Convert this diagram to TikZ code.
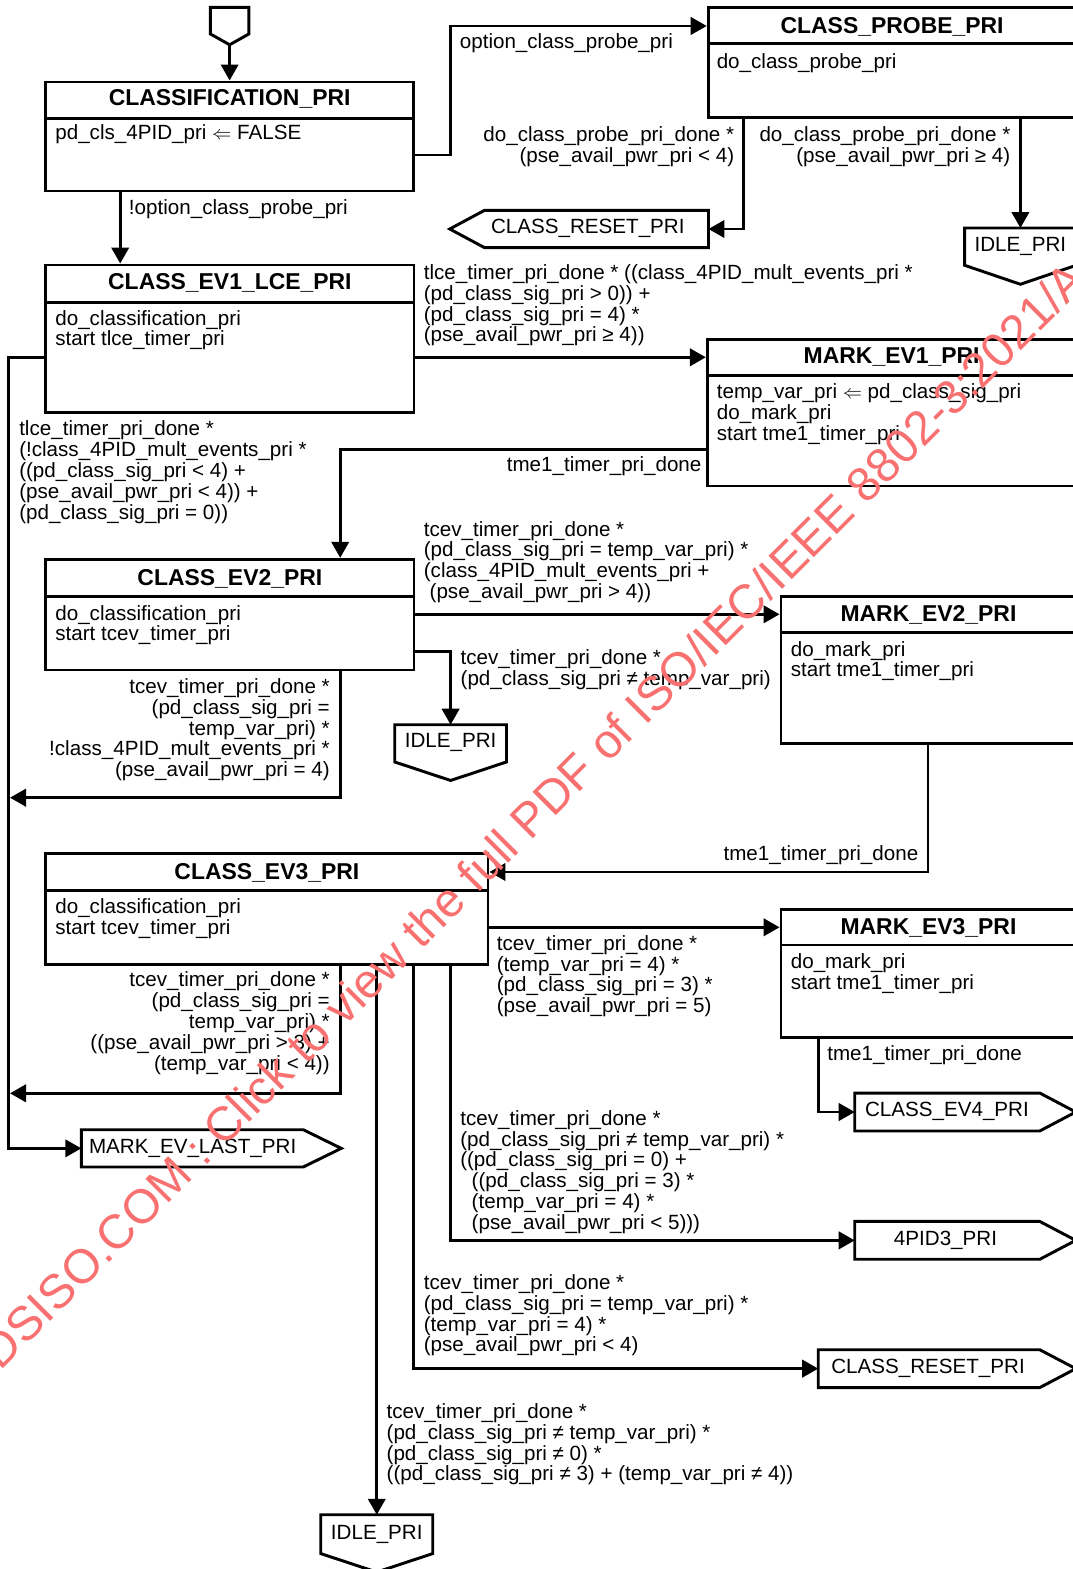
\documentclass[tikz,border=0pt]{standalone}
\usepackage{fontspec}
\setmainfont{Liberation Sans}
\usetikzlibrary{arrows.meta,fit,calc}
\newcommand\lblfont{\fontsize{15.45pt}{15.6pt}\selectfont}
\newcommand\ttlfont{\fontsize{17.2pt}{18pt}\selectfont\bfseries}
\newcommand\wmfont{\fontsize{36pt}{38pt}\selectfont}
\definecolor{wmred}{RGB}{248,112,112}
\begin{document}
\begin{tikzpicture}[x=0.75pt,y=-0.75pt,
 ln/.style={line width=2.2pt},
 arr/.style={line width=2.2pt,-{Triangle[length=12pt,width=13pt]}},
 sbox/.style={draw,line width=2.2pt,inner sep=0pt},
 body/.style={inner sep=0pt},
 ttl/.style={inner sep=0pt,font=\ttlfont,anchor=base},
 txt/.style={inner sep=0pt,font=\lblfont,anchor=base west},
 lbl/.style={inner sep=0pt,font=\lblfont,align=left,anchor=north west},
 rlbl/.style={inner sep=0pt,font=\lblfont,align=right,anchor=north east},
 wm/.style={inner sep=0pt,font=\wmfont,text=wmred,anchor=base west,rotate=45}]

\useasboundingbox (0,0) rectangle (1073,1569);
\clip (0,0) rectangle (1073,1569);

% ---------- state boxes ----------
\node[sbox,fit={(45.8,82)(413.5,191)}] (cls) {};
\draw[ln] (cls.west |- 0,118.3) -- (cls.east |- 0,118.3);
\node[ttl] (clsT) at (cls.north |- 0,106) {CLASSIFICATION\_PRI};
\node[txt] (clsB) at (55.1,140) {pd\_cls\_4PID\_pri $\Leftarrow$ FALSE};

\node[sbox,fit={(708.2,7.3)(1076,117.3)}] (probe) {};
\draw[ln] (probe.west |- 0,43.3) -- (probe.east |- 0,43.3);
\node[ttl] (probeT) at (probe.north |- 0,33.3) {CLASS\_PROBE\_PRI};
\node[txt] (probeB) at (716.5,68.3) {do\_class\_probe\_pri};

\node[sbox,fit={(45.8,265)(414,412.7)}] (cev1) {};
\draw[ln] (cev1.west |- 0,302.3) -- (cev1.east |- 0,302.3);
\node[ttl] (cev1T) at (cev1.north |- 0,289.3) {CLASS\_EV1\_LCE\_PRI};
\node[lbl] (cev1B) at (55.1,310) {do\_classification\_pri\\start tlce\_timer\_pri};

\node[sbox,fit={(707.3,339.3)(1076,486)}] (mev1) {};
\draw[ln] (mev1.west |- 0,375.3) -- (mev1.east |- 0,375.3);
\node[ttl] (mev1T) at (mev1.north |- 0,363.3) {MARK\_EV1\_PRI};
\node[lbl] (mev1B) at (716.6,383.3) {temp\_var\_pri $\Leftarrow$ pd\_class\_sig\_pri\\do\_mark\_pri\\start tme1\_timer\_pri};

\node[sbox,fit={(45.8,559.3)(414,670)}] (cev2) {};
\draw[ln] (cev2.west |- 0,596.7) -- (cev2.east |- 0,596.7);
\node[ttl] (cev2T) at (cev2.north |- 0,585) {CLASS\_EV2\_PRI};
\node[lbl] (cev2B) at (55.1,605) {do\_classification\_pri\\start tcev\_timer\_pri};

\node[sbox,fit={(781,596.7)(1076,743.3)}] (mev2) {};
\draw[ln] (mev2.west |- 0,632.7) -- (mev2.east |- 0,632.7);
\node[ttl] (mev2T) at (mev2.north |- 0,621.7) {MARK\_EV2\_PRI};
\node[lbl] (mev2B) at (790.6,641) {do\_mark\_pri\\start tme1\_timer\_pri};

\node[sbox,fit={(45.8,853.3)(488,964.3)}] (cev3) {};
\draw[ln] (cev3.west |- 0,890.7) -- (cev3.east |- 0,890.7);
\node[ttl] (cev3T) at (cev3.north |- 0,879.3) {CLASS\_EV3\_PRI};
\node[lbl] (cev3B) at (55.1,898.3) {do\_classification\_pri\\start tcev\_timer\_pri};

\node[sbox,fit={(781,909.3)(1076,1037.3)}] (mev3) {};
\draw[ln] (mev3.west |- 0,945) -- (mev3.east |- 0,945);
\node[ttl] (mev3T) at (mev3.north |- 0,934) {MARK\_EV3\_PRI};
\node[lbl] (mev3B) at (790.6,953.3) {do\_mark\_pri\\start tme1\_timer\_pri};

% ---------- entry / exit symbols ----------
\node[body,fit={(210.7,7.6)(248.6,33.7)}] (init) {};
\coordinate (initTip) at (229.65,44.8);
\draw[ln] (init.north west) -- (init.north east) -- (init.south east) -- (initTip) -- (init.south west) -- cycle;

\node[body,fit={(964.8,228.3)(1076,265)}] (idleA) {};
\draw[ln] (idleA.north west) -- (idleA.north east) -- (idleA.south east) -- ($(idleA.south)+(0,19)$) -- (idleA.south west) -- cycle;
\node[txt,anchor=base] (idleAT) at (idleA.north |- 0,251.7) {IDLE\_PRI};

\node[body,fit={(395,725)(506.2,761.7)}] (idleB) {};
\draw[ln] (idleB.north west) -- (idleB.north east) -- (idleB.south east) -- ($(idleB.south)+(0,18.5)$) -- (idleB.south west) -- cycle;
\node[txt,anchor=base] (idleBT) at (idleB.north |- 0,747.3) {IDLE\_PRI};

\node[body,fit={(321,1515)(432.5,1553.3)}] (idleC) {};
\draw[ln] (idleC.north west) -- (idleC.north east) -- (idleC.south east) -- ($(idleC.south)+(0,18.5)$) -- (idleC.south west) -- cycle;
\node[txt,anchor=base] (idleCT) at (idleC.north |- 0,1539.3) {IDLE\_PRI};

\node[body,fit={(484.6,210.7)(708.2,247.3)}] (resetA) {};
\draw[ln] (resetA.north west) -- (resetA.north east) -- (resetA.south east) -- (resetA.south west) -- ($(resetA.west)+(-34.6,0)$) -- cycle;
\node[txt] (resetAT) at (490.8,233.3) {CLASS\_RESET\_PRI};

\node[body,fit={(81.6,1130)(303,1166.7)}] (mlast) {};
\draw[ln] (mlast.north west) -- (mlast.north east) -- ($(mlast.east)+(38,0)$) -- (mlast.south east) -- (mlast.south west) -- cycle;
\node[txt] (mlastT) at (88.8,1153.3) {MARK\_EV\_LAST\_PRI};

\node[body,fit={(855,1093.3)(1039.5,1130.7)}] (ev4) {};
\draw[ln] (ev4.north west) -- (ev4.north east) -- ($(ev4.east)+(36,0)$) -- (ev4.south east) -- (ev4.south west) -- cycle;
\node[txt] (ev4T) at (864.8,1116) {CLASS\_EV4\_PRI};

\node[body,fit={(855,1221.7)(1039.5,1259)}] (pid3) {};
\draw[ln] (pid3.north west) -- (pid3.north east) -- ($(pid3.east)+(36,0)$) -- (pid3.south east) -- (pid3.south west) -- cycle;
\node[txt,anchor=base] (pid3T) at (945.5,1245) {4PID3\_PRI};

\node[body,fit={(818.5,1350)(1039.5,1387.3)}] (resetB) {};
\draw[ln] (resetB.north west) -- (resetB.north east) -- ($(resetB.east)+(36,0)$) -- (resetB.south east) -- (resetB.south west) -- cycle;
\node[txt] (resetBT) at (831,1373.3) {CLASS\_RESET\_PRI};

\coordinate (bus2) at (10,797.7);
\coordinate (bus3) at (10,1093.3);

% ---------- connectors ----------
\draw[arr] (initTip) -- (cls.north);
\draw[arr] (cls.east |- 0,155) -| (450.4,26) -- (probe.west |- 0,26);
\draw[arr] (cls.south -| 120.2,0) -- (cev1.north -| 120.2,0);
\draw[arr] (probe.south -| 743.5,0) |- (resetA.east);
\draw[arr] (probe.south -| idleA.north) -- (idleA.north);
\draw[arr] (cev1.east |- 0,357.3) -- (mev1.west |- 0,357.3);
\draw[arr] (cev1.west |- 0,357.3) -- (8.6,357.3) |- (mlast.west);
\draw[arr] (mev1.west |- 0,449.3) -| (cev2.north -| 340.2,0);
\draw[arr] (cev2.east |- 0,614.3) -- (mev2.west |- 0,614.3);
\draw[arr] (cev2.east |- 0,651.7) -| (idleB.north);
\draw[arr] (cev2.south -| 340.2,0) |- (bus2);
\draw[arr] (mev2.south -| 928,0) |- (cev3.east |- 0,872);
\draw[arr] (cev3.east |- 0,927.3) -- (mev3.west |- 0,927.3);
\draw[arr] (cev3.south -| 340.2,0) |- (bus3);
\draw[arr] (cev3.south -| idleC.north) -- (idleC.north);
\draw[arr] (cev3.south -| 413.2,0) |- (resetB.west);
\draw[arr] (cev3.south -| 450.4,0) |- (pid3.west);
\draw[arr] (mev3.south -| 818.5,0) |- (ev4.west);

% ---------- labels ----------
\node[txt] (lOpt) at (459.6,49) {option\_class\_probe\_pri};
\node[txt] (lNotOpt) at (128.7,215) {!option\_class\_probe\_pri};
\node[rlbl] (lProbeA) at (734.5,126.7) {do\_class\_probe\_pri\_done *\\(pse\_avail\_pwr\_pri < 4)};
\node[rlbl] (lProbeB) at (1010.6,126.7) {do\_class\_probe\_pri\_done *\\(pse\_avail\_pwr\_pri ≥ 4)};
\node[lbl] (lEv1Mark) at (423.6,264.3) {tlce\_timer\_pri\_done * ((class\_4PID\_mult\_events\_pri *\\(pd\_class\_sig\_pri > 0)) +\\(pd\_class\_sig\_pri = 4) *\\(pse\_avail\_pwr\_pri ≥ 4))};
\node[lbl] (lEv1Last) at (19,420.7) {tlce\_timer\_pri\_done *\\(!class\_4PID\_mult\_events\_pri *\\((pd\_class\_sig\_pri < 4) +\\(pse\_avail\_pwr\_pri < 4)) +\\(pd\_class\_sig\_pri = 0))};
\node[txt,anchor=base east] (lTme1a) at (701.7,471.7) {tme1\_timer\_pri\_done};
\node[lbl] (lEv2Mark) at (423.6,521) {tcev\_timer\_pri\_done *\\(pd\_class\_sig\_pri = temp\_var\_pri) *\\(class\_4PID\_mult\_events\_pri +\\\hspace*{0.28em}(pse\_avail\_pwr\_pri > 4))};
\node[lbl] (lEv2Idle) at (460.4,649.3) {tcev\_timer\_pri\_done *\\(pd\_class\_sig\_pri ≠ temp\_var\_pri)};
\node[rlbl] (lEv2Bus) at (330,678.3) {tcev\_timer\_pri\_done *\\(pd\_class\_sig\_pri =\\temp\_var\_pri) *\\!class\_4PID\_mult\_events\_pri *\\(pse\_avail\_pwr\_pri = 4)};
\node[txt,anchor=base east] (lTme1b) at (918.5,860) {tme1\_timer\_pri\_done};
\node[lbl] (lEv3Mark) at (496.6,935) {tcev\_timer\_pri\_done *\\(temp\_var\_pri = 4) *\\(pd\_class\_sig\_pri = 3) *\\(pse\_avail\_pwr\_pri = 5)};
\node[rlbl] (lEv3Bus) at (330,971.7) {tcev\_timer\_pri\_done *\\(pd\_class\_sig\_pri =\\temp\_var\_pri) *\\((pse\_avail\_pwr\_pri > 3) +\\(temp\_var\_pri < 4))};
\node[lbl] (lEv3Pid) at (460,1110) {tcev\_timer\_pri\_done *\\(pd\_class\_sig\_pri ≠ temp\_var\_pri) *\\((pd\_class\_sig\_pri = 0) +\\\hspace*{0.556em}((pd\_class\_sig\_pri = 3) *\\\hspace*{0.556em}(temp\_var\_pri = 4) *\\\hspace*{0.556em}(pse\_avail\_pwr\_pri < 5)))};
\node[lbl] (lEv3Reset) at (423.6,1274.3) {tcev\_timer\_pri\_done *\\(pd\_class\_sig\_pri = temp\_var\_pri) *\\(temp\_var\_pri = 4) *\\(pse\_avail\_pwr\_pri < 4)};
\node[lbl] (lEv3Idle) at (386.4,1403.3) {tcev\_timer\_pri\_done *\\(pd\_class\_sig\_pri ≠ temp\_var\_pri) *\\(pd\_class\_sig\_pri ≠ 0) *\\((pd\_class\_sig\_pri ≠ 3) + (temp\_var\_pri ≠ 4))};
\node[txt] (lTme1c) at (827,1060) {tme1\_timer\_pri\_done};

% ---------- watermark ----------
\node[wm] (wmark) at (-159,1531) {STANDARDSISO.COM : Click to view the full PDF of ISO/IEC/IEEE 8802-3:2021/A};
\end{tikzpicture}
\end{document}
